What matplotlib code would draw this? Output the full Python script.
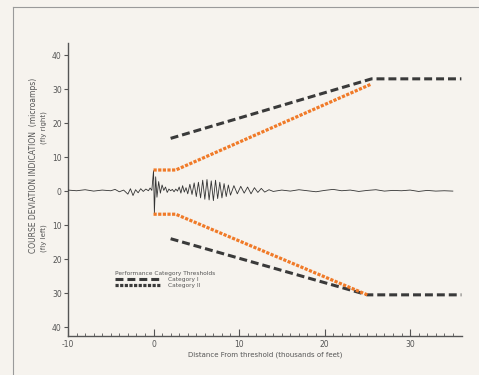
import numpy as np
import matplotlib
matplotlib.use("Agg")
import matplotlib.pyplot as plt
from matplotlib.lines import Line2D

# Performance category thresholds (distance kft, deviation microamps)
cat1_upper_x = [2.0, 25.5, 36.0]
cat1_upper_y = [15.5, 33.0, 33.0]
cat1_lower_x = [2.0, 25.0, 36.0]
cat1_lower_y = [-14.0, -30.5, -30.5]
cat2_upper_x = [0.0, 2.6, 25.5]
cat2_upper_y = [6.2, 6.2, 31.5]
cat2_lower_x = [0.0, 2.6, 25.0]
cat2_lower_y = [-6.8, -6.8, -30.5]

trace = [(-10, 0.3), (-9, 0.1), (-8, 0.4), (-7, 0.0), (-6, 0.3), (-5, 0.1),
         (-4.5, 0.5), (-4, -0.2), (-3.5, 0.3), (-3, -0.9), (-2.7, 0.7),
         (-2.4, -1.3), (-2.1, 0.4), (-1.8, -0.5), (-1.5, 0.7), (-1.2, -0.1),
         (-0.9, 0.6), (-0.6, 0.1), (-0.4, 0.9), (-0.2, 0.2), (0.0, 6.0),
         (0.1, -6.5), (0.25, 4.2), (0.4, -1.8), (0.6, 2.8), (0.8, -0.6),
         (1.0, 1.8), (1.2, 0.2), (1.4, 1.2), (1.6, -0.4), (1.8, 0.6),
         (2.0, 0.1), (2.2, 0.5), (2.4, -0.2), (2.6, 0.6), (2.8, 0.0),
         (3.0, 1.2), (3.2, -0.6), (3.4, 1.6), (3.6, -0.3), (3.8, 1.0),
         (4.0, -0.8), (4.25, 2.0), (4.5, -1.0), (4.75, 2.4), (5.0, -1.6),
         (5.25, 2.6), (5.5, -2.0), (5.75, 3.2), (6.0, -2.4), (6.25, 3.4),
         (6.5, -2.6), (6.75, 3.0), (7.0, -2.8), (7.25, 3.2), (7.5, -2.2),
         (7.75, 2.6), (8.0, -2.0), (8.25, 2.2), (8.5, -1.6), (8.75, 1.8),
         (9.0, -1.2), (9.4, 1.6), (9.8, -0.8), (10.2, 1.4), (10.6, -0.6),
         (11.0, 1.2), (11.4, -0.8), (11.8, 1.0), (12.2, -0.4), (12.6, 0.8),
         (13.0, -0.3), (13.5, 0.4), (14, -0.1), (15, 0.3), (16, 0.0),
         (17, 0.4), (18, 0.1), (19, -0.2), (20, 0.2), (21, 0.5), (22, 0.1),
         (23, 0.3), (24, -0.1), (25, 0.2), (26, 0.4), (27, 0.0), (28, 0.2),
         (29, 0.1), (30, 0.3), (31, -0.1), (32, 0.2), (33, 0.0), (34, 0.1),
         (35, 0.0)]

x_major = [-10, 0, 10, 20, 30]
y_major = [-40, -30, -20, -10, 0, 10, 20, 30, 40]

BG = "#f6f3ee"
INK = "#555555"
DARK = "#3a3a3a"
ORANGE = "#f07a28"

fig = plt.figure(figsize=(4.79, 3.75), dpi=100, facecolor=BG)
ax = fig.add_axes([0.142, 0.104, 0.823, 0.781])
ax.set_facecolor(BG)

tx, ty = zip(*trace)
ax.plot(tx, ty, color="#333333", lw=0.6, zorder=3)

ax.plot(cat1_upper_x, cat1_upper_y, color=DARK, lw=2.2, dashes=(2.6, 1.3), zorder=4)
ax.plot(cat1_lower_x, cat1_lower_y, color=DARK, lw=2.2, dashes=(2.6, 1.3), zorder=4)
ax.plot(cat2_upper_x, cat2_upper_y, color=ORANGE, lw=2.3, dashes=(1, 0.45), zorder=5)
ax.plot(cat2_lower_x, cat2_lower_y, color=ORANGE, lw=2.3, dashes=(1, 0.45), zorder=5)

ax.set_xlim(-10, 36.1)
ax.set_ylim(-42.6, 43.5)
for s in ("top", "right"):
    ax.spines[s].set_visible(False)
for s in ("left", "bottom"):
    ax.spines[s].set_color(INK)
    ax.spines[s].set_linewidth(1.0)

ax.set_xticks(x_major)
ax.set_xticklabels([str(v) for v in x_major])
ax.set_xticks(np.arange(-10, 36, 1), minor=True)
ax.set_yticks(y_major)
ax.set_yticklabels([str(abs(v)) for v in y_major])
ax.tick_params(axis="x", which="major", direction="in", length=5, width=0.8,
               color=INK, labelsize=5.5, labelcolor=INK, pad=3)
ax.tick_params(axis="x", which="minor", direction="in", length=2.2, width=0.6, color=INK)
ax.tick_params(axis="y", which="major", direction="out", length=3, width=0.8,
               color=INK, labelsize=5.5, labelcolor=INK, pad=1.5)

ax.set_xlabel("Distance From threshold (thousands of feet)", fontsize=5, color=INK, labelpad=2)

fig.text(0.069, 0.56, "COURSE DEVIATION INDICATION  (microamps)", rotation=90,
         ha="center", va="center", fontsize=5.5, color=INK)
fig.text(0.092, 0.659, "(fly right)", rotation=90, ha="center", va="center",
         fontsize=5, color=INK)
fig.text(0.092, 0.365, "(fly left)", rotation=90, ha="center", va="center",
         fontsize=5, color=INK)

handles = [Line2D([], [], color=DARK, lw=2.2, dashes=(2.6, 1.3)),
           Line2D([], [], color=DARK, lw=2.3, dashes=(1, 0.45))]
leg = ax.legend(handles, ["Category I", "Category II"],
                title="Performance Category Thresholds", loc="upper left",
                bbox_to_anchor=(0.108, 0.235), frameon=False, fontsize=4.2,
                title_fontsize=4.2, handlelength=8.0, handletextpad=1.2,
                labelspacing=0.15, borderpad=0.2)
leg._legend_box.align = "left"
for t in leg.get_texts():
    t.set_color(INK)
leg.get_title().set_color(INK)

# page frame lines from the scan
fig.add_artist(Line2D([0.027, 0.027], [0.0, 0.981], color="#9a9a9a", lw=0.8))
fig.add_artist(Line2D([0.027, 1.0], [0.981, 0.981], color="#9a9a9a", lw=0.8))

fig.savefig("out.png", dpi=100, facecolor=BG)
